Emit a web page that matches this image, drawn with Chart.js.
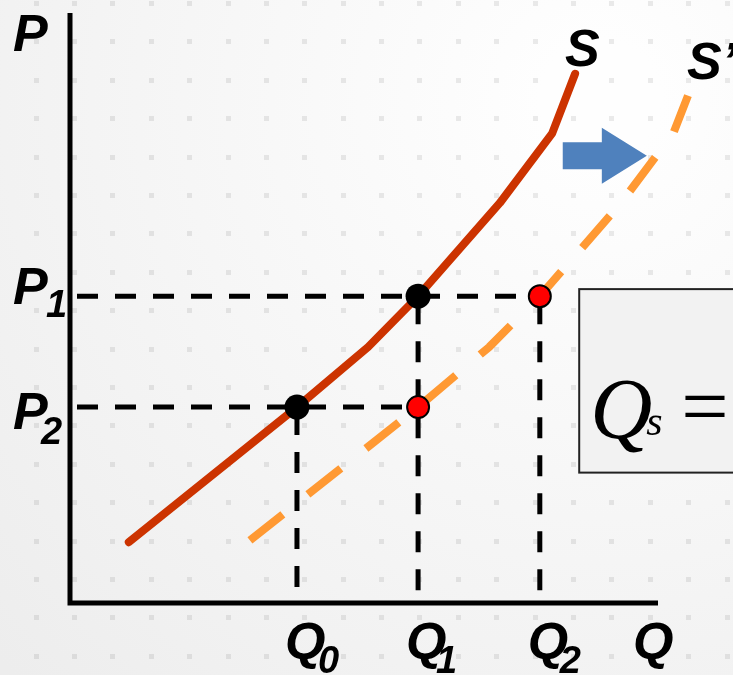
<!DOCTYPE html>
<html>
<head>
<meta charset="utf-8">
<script src="https://cdn.jsdelivr.net/npm/chart.js@4.4.1/dist/chart.umd.min.js"></script>
<style>
  html, body { margin: 0; padding: 0; background: #f4f4f4; }
  #wrap { width: 733px; height: 675px; }
</style>
</head>
<body>
<div id="wrap"><canvas id="chartSupply" width="733" height="675"></canvas></div>
<script>
// supply curve S (quantity, price)
const sQty = [1.0, 3.86, 5.07, 5.92, 7.31, 8.20, 8.59];
const sPrice = [1.03, 3.32, 4.34, 5.20, 6.78, 7.96, 8.97];
// shifted supply curve S'
const s2Qty = [3.06, 5.92, 7.13, 7.99, 9.37, 10.26, 10.51];
const s2Price = [1.06, 3.32, 4.34, 5.20, 6.78, 7.96, 8.60];
// marked quantities and prices
const qNames = ["0", "1", "2"];
const qValues = [3.86, 5.92, 7.99];
const pNames = ["1", "2"];
const pValues = [5.20, 3.32];
// drawn length of the quantity axis
const qAxisEnd = 10;
// shift arrow and formula box (axis units)
const arrowQ = [8.38, 9.81];
const arrowP = 7.58;
const boxQ = 8.66;
const boxP = [5.32, 2.21];

const pts = (xs, ys) => xs.map((x, i) => ({ x: x, y: ys[i] }));

const dashStyle = {
  borderColor: "#000",
  borderWidth: 5,
  borderDash: [21, 17],
  borderDashOffset: 31,
  pointRadius: 0,
  showLine: true,
  fill: false,
  order: 4,
  clip: false,
};

const guides = [
  [{ x: 0, y: pValues[0] }, { x: qValues[2], y: pValues[0] }],
  [{ x: 0, y: pValues[1] }, { x: qValues[1], y: pValues[1] }],
  [{ x: qValues[0], y: pValues[1] }, { x: qValues[0], y: 0 }],
  [{ x: qValues[1], y: pValues[0] }, { x: qValues[1], y: 0 }],
  [{ x: qValues[2], y: pValues[0] }, { x: qValues[2], y: 0 }],
].map((d) => Object.assign({ data: d }, dashStyle));

const backdrop = {
  id: "backdrop",
  beforeDraw(chart) {
    const ctx = chart.ctx;
    const g = ctx.createRadialGradient(600, 100, 60, 600, 100, 820);
    g.addColorStop(0, "#fefefe");
    g.addColorStop(1, "#ededed");
    ctx.save();
    ctx.fillStyle = g;
    ctx.fillRect(0, 0, chart.width, chart.height);
    ctx.fillStyle = "rgba(0,0,0,0.08)";
    for (let x = 36; x < chart.width; x += 38.4) {
      for (let y = 3.5; y < chart.height; y += 38.4) {
        ctx.fillRect(Math.round(x - 2.5), Math.round(y - 2.5), 5, 5);
      }
    }
    ctx.restore();
  },
  beforeDatasetsDraw(chart) {
    const { ctx, chartArea: a } = chart;
    const xEnd = chart.scales.x.getPixelForValue(qAxisEnd);
    ctx.save();
    ctx.strokeStyle = "#000";
    ctx.lineWidth = 5;
    ctx.beginPath();
    ctx.moveTo(a.left, a.top);
    ctx.lineTo(a.left, a.bottom);
    ctx.lineTo(xEnd, a.bottom);
    ctx.stroke();
    ctx.restore();
  },
  afterDatasetsDraw(chart) {
    const ctx = chart.ctx;
    const xs = chart.scales.x, ys = chart.scales.y;
    ctx.save();

    // arrow
    const ax0 = xs.getPixelForValue(arrowQ[0]);
    const ax1 = xs.getPixelForValue(arrowQ[1]);
    const ay = ys.getPixelForValue(arrowP);
    const head = 45;
    ctx.fillStyle = "#4f81bd";
    ctx.beginPath();
    ctx.moveTo(ax0, ay - 13.5);
    ctx.lineTo(ax1 - head, ay - 13.5);
    ctx.lineTo(ax1 - head, ay - 28);
    ctx.lineTo(ax1, ay);
    ctx.lineTo(ax1 - head, ay + 28);
    ctx.lineTo(ax1 - head, ay + 13.5);
    ctx.lineTo(ax0, ay + 13.5);
    ctx.closePath();
    ctx.fill();

    // formula box
    const bx = xs.getPixelForValue(boxQ);
    const by0 = ys.getPixelForValue(boxP[0]);
    const by1 = ys.getPixelForValue(boxP[1]);
    ctx.fillStyle = "#f2f2f2";
    ctx.fillRect(bx, by0, chart.width - bx + 10, by1 - by0);
    ctx.strokeStyle = "#222";
    ctx.lineWidth = 2;
    ctx.strokeRect(bx, by0, chart.width - bx + 10, by1 - by0);
    ctx.fillStyle = "#000";
    ctx.textBaseline = "alphabetic";
    ctx.textAlign = "left";
    ctx.font = "italic 86px 'Liberation Serif'";
    ctx.fillText("Q", bx + 11, by1 - 35);
    ctx.font = "italic 42px 'Liberation Serif'";
    ctx.fillText("s", bx + 67, by1 - 38);
    ctx.font = "84px 'Liberation Serif'";
    ctx.fillText("=", bx + 102, by1 - 38);

    // axis and curve labels
    const big = "italic bold 52px 'Liberation Sans'";
    const sub = "italic bold 38px 'Liberation Sans'";
    const left = chart.chartArea.left, bottom = chart.chartArea.bottom;
    const label = (t, s, x, y, sx, sy) => {
      ctx.font = big;
      ctx.fillText(t, x, y);
      if (s) {
        ctx.font = sub;
        ctx.fillText(s, sx, sy);
      }
    };
    label("P", null, left - 57, chart.chartArea.top + 38);
    const pOff = [[8, 21, 46], [22, 37, 41]];
    pValues.forEach((p, i) => {
      const py = ys.getPixelForValue(p);
      label("P", pNames[i], left - 57, py + pOff[i][0], pOff[i][2], py + pOff[i][1]);
    });
    const qSub = [21, 18, 20];
    qValues.forEach((q, i) => {
      const qx = xs.getPixelForValue(q);
      label("Q", qNames[i], qx - 12, bottom + 56, qx + qSub[i], bottom + 70);
    });
    label("Q", null, xs.getPixelForValue(qAxisEnd) - 25, bottom + 56);
    const sTop = sQty.length - 1, s2Top = s2Qty.length - 1;
    label("S", null, xs.getPixelForValue(sQty[sTop]) - 10, ys.getPixelForValue(sPrice[sTop]) - 8);
    label("S\u2019", null, xs.getPixelForValue(s2Qty[s2Top]) - 1, ys.getPixelForValue(s2Price[s2Top]) - 17);
    ctx.restore();
  },
};

new Chart(document.querySelector("#chartSupply"), {
  type: "scatter",
  data: {
    datasets: [
      {
        label: "S",
        data: pts(sQty, sPrice),
        showLine: true,
        borderColor: "#cc3300",
        borderWidth: 8,
        borderCapStyle: "round",
        borderJoinStyle: "round",
        pointRadius: 0,
        tension: 0,
        order: 2,
        clip: false,
      },
      {
        label: "S'",
        data: pts(s2Qty, s2Price),
        showLine: true,
        borderColor: "#ff9933",
        borderWidth: 8,
        borderDash: [42, 32],
        borderCapStyle: "butt",
        pointRadius: 0,
        tension: 0,
        order: 3,
        clip: false,
      },
      {
        label: "initial",
        data: [{ x: qValues[0], y: pValues[1] }, { x: qValues[1], y: pValues[0] }],
        pointRadius: 12.5,
        pointBackgroundColor: "#000",
        pointBorderWidth: 0,
        order: 0,
        clip: false,
      },
      {
        label: "shifted",
        data: [{ x: qValues[1], y: pValues[1] }, { x: qValues[2], y: pValues[0] }],
        pointRadius: 11,
        pointBackgroundColor: "#ff0000",
        pointBorderColor: "#000",
        pointBorderWidth: 2,
        order: 0,
        clip: false,
      },
      ...guides,
    ],
  },
  options: {
    responsive: false,
    animation: false,
    layout: { padding: { left: 70, right: 16.2, top: 9, bottom: 72 } },
    scales: {
      x: { type: "linear", min: 0, max: 11, display: false },
      y: { type: "linear", min: 0, max: 10, display: false },
    },
    plugins: {
      legend: { display: false },
      tooltip: { enabled: false },
    },
  },
  plugins: [backdrop],
});
</script>
</body>
</html>
